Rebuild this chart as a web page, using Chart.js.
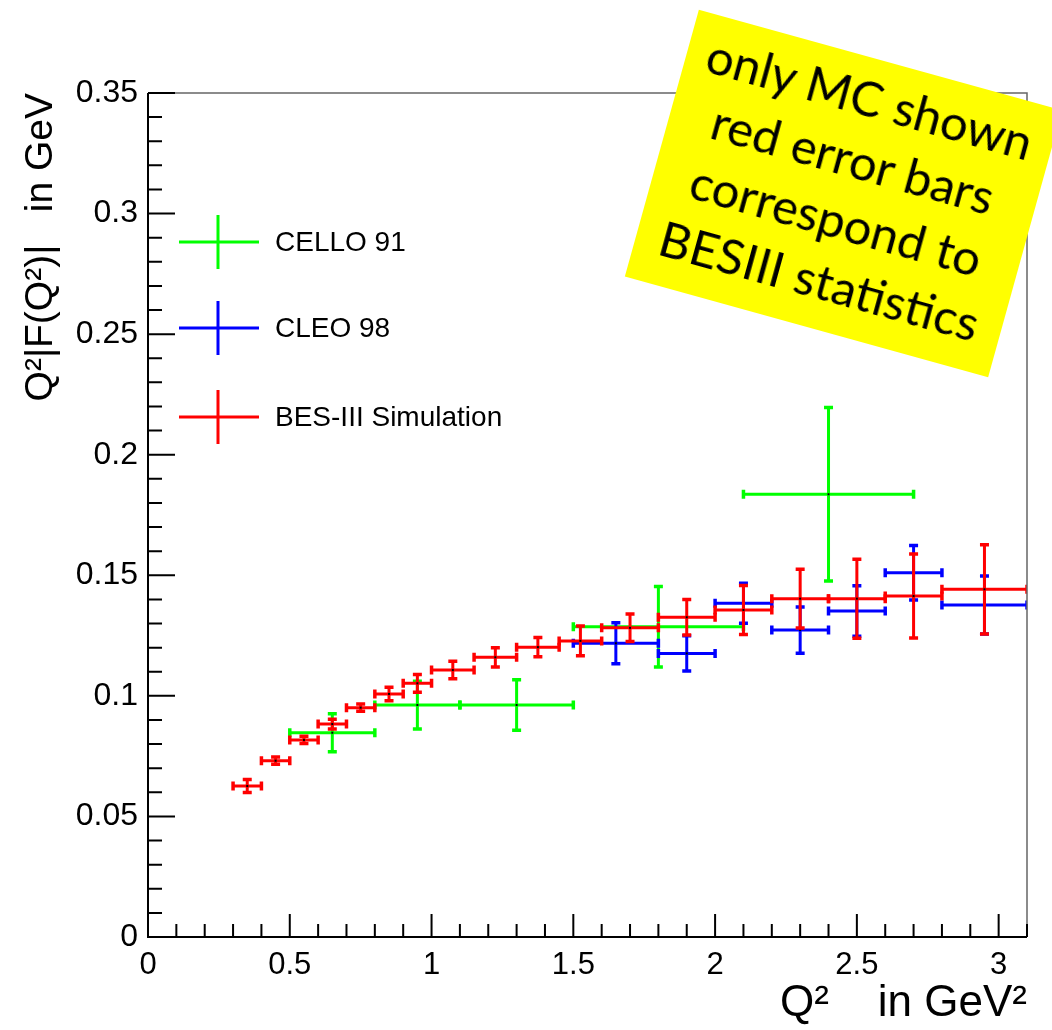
<!DOCTYPE html>
<html>
<head>
<meta charset="utf-8">
<script src="https://cdn.jsdelivr.net/npm/chart.js@4.4.1/dist/chart.umd.min.js"></script>
<style>
    body { margin: 0; background: #fff; overflow: hidden; }
    #wrap { position: relative; width: 1052px; height: 1030px; overflow: hidden; }
    #note {
        position: absolute; left: 655px; top: 55px; width: 377px; height: 277px;
        background: #ffff00; transform: rotate(15.5deg); box-sizing: border-box;
        padding-top: 8px; font-family: Lato, "Open Sans", sans-serif; font-size: 49px;
        line-height: 63px; text-align: center; color: #000; white-space: nowrap;
    }
</style>
</head>
<body>
<div id="wrap">
    <canvas id="chart" width="1052" height="1030"></canvas>
    <div id="note">only MC shown<br>red error bars<br>correspond to<br>BESIII statistics</div>
</div>
<script>
// CELLO 91
const celloX = [0.65, 0.95, 1.3, 1.8, 2.4];
const celloXErr = [0.15, 0.15, 0.2, 0.3, 0.3];
const celloY = [0.0847, 0.0962, 0.0962, 0.1287, 0.1836];
const celloYErr = [0.0079, 0.0099, 0.0105, 0.0167, 0.036];

// CLEO 98
const cleoX = [1.65, 1.9, 2.1, 2.3, 2.5, 2.7, 2.95];
const cleoXErr = [0.15, 0.1, 0.1, 0.1, 0.1, 0.1, 0.15];
const cleoY = [0.1218, 0.1176, 0.1384, 0.1273, 0.1352, 0.1511, 0.1377];
const cleoYErr = [0.0085, 0.0073, 0.0083, 0.0096, 0.0105, 0.0113, 0.012];

// BES-III simulation
const besX = [0.35, 0.45, 0.55, 0.65, 0.75, 0.85, 0.95, 1.075, 1.225, 1.375, 1.525, 1.7, 1.9, 2.1, 2.3, 2.5, 2.7, 2.95];
const besXErr = [0.05, 0.05, 0.05, 0.05, 0.05, 0.05, 0.05, 0.075, 0.075, 0.075, 0.075, 0.1, 0.1, 0.1, 0.1, 0.1, 0.1, 0.15];
const besY = [0.0626, 0.0731, 0.0817, 0.0883, 0.0951, 0.1008, 0.1052, 0.1107, 0.116, 0.1202, 0.1228, 0.1282, 0.1326, 0.1356, 0.1403, 0.1403, 0.1414, 0.1442];
const besYErr = [0.0027, 0.0015, 0.0015, 0.002, 0.0015, 0.0028, 0.0037, 0.0036, 0.004, 0.004, 0.0062, 0.0057, 0.0074, 0.0102, 0.0122, 0.0164, 0.0174, 0.0185];

const xTicks = [0, 0.5, 1, 1.5, 2, 2.5, 3];
const xTickLabels = ['0', '0.5', '1', '1.5', '2', '2.5', '3'];
const yTicks = [0, 0.05, 0.1, 0.15, 0.2, 0.25, 0.3, 0.35];
const yTickLabels = ['0', '0.05', '0.1', '0.15', '0.2', '0.25', '0.3', '0.35'];

const toPoints = (xs, xe, ys, ye) => xs.map((v, i) => ({x: v, y: ys[i], xErr: xe[i], yErr: ye[i]}));

const FONT = '"Liberation Sans", Arial, sans-serif';

// ROOT style error crosses with end caps
const errorBars = {
    id: 'errorBars',
    afterDatasetsDraw(chart) {
        const { ctx, chartArea: a, scales: { x, y } } = chart;
        ctx.save();
        ctx.beginPath();
        ctx.rect(a.left, a.top, a.right - a.left, a.bottom - a.top);
        ctx.clip();
        const cap = 4.5;
        chart.data.datasets.forEach(ds => {
            ctx.strokeStyle = ds.borderColor;
            ctx.lineWidth = 3;
            ds.data.forEach(p => {
                const cx = x.getPixelForValue(p.x), cy = y.getPixelForValue(p.y);
                const x0 = x.getPixelForValue(p.x - p.xErr), x1 = x.getPixelForValue(p.x + p.xErr);
                const y0 = y.getPixelForValue(p.y - p.yErr), y1 = y.getPixelForValue(p.y + p.yErr);
                ctx.beginPath();
                ctx.moveTo(x0, cy); ctx.lineTo(x1, cy);
                ctx.moveTo(cx, y0); ctx.lineTo(cx, y1);
                ctx.stroke();
                ctx.lineWidth = 3.5;
                ctx.beginPath();
                ctx.moveTo(x0, cy - cap); ctx.lineTo(x0, cy + cap);
                ctx.moveTo(x1, cy - cap); ctx.lineTo(x1, cy + cap);
                ctx.moveTo(cx - cap, y0); ctx.lineTo(cx + cap, y0);
                ctx.moveTo(cx - cap, y1); ctx.lineTo(cx + cap, y1);
                ctx.stroke();
                ctx.lineWidth = 3;
                ctx.fillStyle = '#000';
                ctx.fillRect(cx - 1, cy - 1, 2, 2);
            });
        });
        ctx.restore();
    }
};

// frame, inward ticks and the legend
const frame = {
    id: 'frame',
    afterDraw(chart) {
        const { ctx, chartArea: a, scales: { x, y } } = chart;
        ctx.save();
        ctx.strokeStyle = '#666';
        ctx.lineWidth = 1.5;
        ctx.beginPath();
        ctx.moveTo(a.left, a.top); ctx.lineTo(a.right, a.top); ctx.lineTo(a.right, a.bottom);
        ctx.stroke();

        ctx.strokeStyle = '#000';
        ctx.lineWidth = 2;
        ctx.beginPath();
        ctx.moveTo(a.left, a.top); ctx.lineTo(a.left, a.bottom); ctx.lineTo(a.right, a.bottom);
        for (let i = 0; i <= 35; i++) {
            const py = y.getPixelForValue(i * 0.01);
            ctx.moveTo(a.left, py); ctx.lineTo(a.left + (i % 5 == 0 ? 27 : 14), py);
        }
        for (let i = 0; i <= 31; i++) {
            const px = x.getPixelForValue(i * 0.1);
            ctx.moveTo(px, a.bottom); ctx.lineTo(px, a.bottom - (i % 5 == 0 ? 23 : 13));
        }
        ctx.stroke();

        // legend
        const rows = [242, 328, 417];
        ctx.font = '28px ' + FONT;
        ctx.textBaseline = 'middle';
        chart.data.datasets.forEach((ds, i) => {
            const ly = rows[i];
            ctx.strokeStyle = ds.borderColor;
            ctx.lineWidth = 3;
            ctx.beginPath();
            ctx.moveTo(179, ly); ctx.lineTo(259, ly);
            ctx.moveTo(218, ly - 27); ctx.lineTo(218, ly + 27);
            ctx.stroke();
            ctx.fillStyle = '#000';
            ctx.fillText(ds.label, 275, ly + 1);
        });
        ctx.restore();
    }
};

const elm = document.getElementById('chart');
new Chart(elm, {
    type: 'scatter',
    data: {
        datasets: [
            {
                label: 'CELLO 91',
                data: toPoints(celloX, celloXErr, celloY, celloYErr),
                borderColor: '#00ff00',
                backgroundColor: '#00ff00',
                pointRadius: 0,
            },
            {
                label: 'CLEO 98',
                data: toPoints(cleoX, cleoXErr, cleoY, cleoYErr),
                borderColor: '#0000ff',
                backgroundColor: '#0000ff',
                pointRadius: 0,
            },
            {
                label: 'BES-III Simulation',
                data: toPoints(besX, besXErr, besY, besYErr),
                borderColor: '#ff0000',
                backgroundColor: '#ff0000',
                pointRadius: 0,
            },
        ]
    },
    options: {
        responsive: false,
        animation: false,
        layout: { padding: { top: 93, right: 25, left: 0, bottom: 0 } },
        plugins: { legend: { display: false }, tooltip: { enabled: false } },
        scales: {
            x: {
                type: 'linear', min: 0, max: 3.1,
                grid: { display: false, drawTicks: false },
                border: { display: false },
                afterBuildTicks: s => { s.ticks = xTicks.map(v => ({ value: v })) },
                afterFit: s => { s.height = 93 },
                ticks: {
                    padding: 10, color: '#000', maxRotation: 0,
                    font: { family: FONT, size: 31 },
                    callback: v => xTickLabels[xTicks.indexOf(v)],
                },
                title: {
                    display: true, text: 'Q²    in GeV²', align: 'end', color: '#000',
                    font: { family: FONT, size: 44 }, padding: { top: 0, bottom: 0 },
                },
            },
            y: {
                type: 'linear', min: 0, max: 0.35,
                grid: { display: false, drawTicks: false },
                border: { display: false },
                afterBuildTicks: s => { s.ticks = yTicks.map(v => ({ value: v })) },
                afterFit: s => { s.width = 148 },
                ticks: {
                    padding: 10, color: '#000',
                    font: { family: FONT, size: 32 },
                    callback: v => yTickLabels[yTicks.indexOf(v)],
                },
                title: {
                    display: true, text: 'Q²|F(Q²)|   in GeV', align: 'end', color: '#000',
                    font: { family: FONT, size: 39 }, padding: { top: 18, bottom: 0 },
                },
            },
        },
    },
    plugins: [errorBars, frame],
});
</script>
</body>
</html>
